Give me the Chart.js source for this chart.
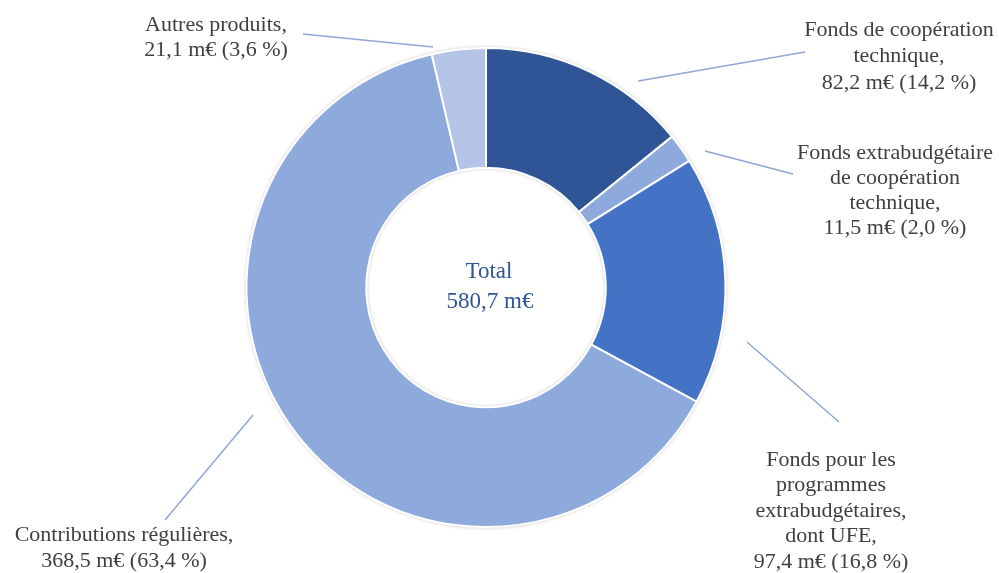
<!DOCTYPE html>
<html>
<head>
<meta charset="utf-8">
<script src="https://cdn.jsdelivr.net/npm/chart.js@4/dist/chart.umd.min.js"></script>
<style>
  html, body { margin: 0; padding: 0; background: #fff; }
  #wrap { width: 999px; height: 573px; }
</style>
</head>
<body>
<div id="wrap"><canvas id="myChart"></canvas></div>
<script>
const categories = [
  "Fonds de coopération technique",
  "Fonds extrabudgétaire de coopération technique",
  "Fonds pour les programmes extrabudgétaires, dont UFE",
  "Contributions régulières",
  "Autres produits"
];
const amounts = [82.2, 11.5, 97.4, 368.5, 21.1];
const shares = ["14,2", "2,0", "16,8", "63,4", "3,6"];
const totalLabel = ["Total", "580,7 m€"];

// text lines per label (label text wraps as in the source)
const labelLines = [
  ["Fonds de coopération", "technique,"],
  ["Fonds extrabudgétaire", "de coopération", "technique,"],
  ["Fonds pour les", "programmes", "extrabudgétaires,", "dont UFE,"],
  ["Contributions régulières,"],
  ["Autres produits,"]
];

const colors = ["#2F5597", "#8EA9DB", "#4472C4", "#8EA9DB", "#B4C4E6"];

// label layout: text centre, first line y, leader line from/to
const layout = [
  { x: 899, y: 30, lh: 26.5, line: [638, 81, 805, 52] },
  { x: 895, y: 153, lh: 25, line: [705, 151, 793, 174] },
  { x: 831, y: 460, lh: 25.5, line: [747, 342, 839, 422] },
  { x: 124, y: 535, lh: 26, line: [253, 415, 165, 520] },
  { x: 216, y: 25, lh: 25, line: [303, 34, 433, 47] }
];

const fmt = v => v.toFixed(1).replace(".", ",");

const labelPlugin = {
  id: "labels",
  beforeDatasetsDraw(chart) {
    const ctx = chart.ctx;
    const a = chart.getDatasetMeta(0).data[0];
    ctx.save();
    ctx.shadowColor = "rgba(0,0,0,0.3)";
    ctx.shadowBlur = 4;
    ctx.beginPath();
    ctx.arc(a.x, a.y, a.outerRadius, 0, Math.PI * 2);
    ctx.arc(a.x, a.y, a.innerRadius, 0, Math.PI * 2, true);
    ctx.fillStyle = "#ffffff";
    ctx.fill();
    ctx.restore();
  },
  afterDraw(chart) {
    const ctx = chart.ctx;
    const a = chart.getDatasetMeta(0).data[0];
    ctx.save();
    ctx.font = "22px 'Liberation Serif'";
    ctx.textAlign = "center";
    ctx.textBaseline = "middle";
    categories.forEach((c, i) => {
      const L = layout[i];
      ctx.strokeStyle = "#8FA6D6";
      ctx.lineWidth = 1.5;
      ctx.beginPath();
      ctx.moveTo(L.line[0], L.line[1]);
      ctx.lineTo(L.line[2], L.line[3]);
      ctx.stroke();
      const lines = labelLines[i].concat([fmt(amounts[i]) + " m€ (" + shares[i] + " %)"]);
      ctx.fillStyle = "#404040";
      lines.forEach((t, k) => ctx.fillText(t, L.x, L.y + k * L.lh));
    });
    ctx.font = "23px 'Liberation Serif'";
    ctx.fillStyle = "#2F5597";
    ctx.fillText(totalLabel[0], a.x + 3, a.y - 16);
    ctx.fillText(totalLabel[1], a.x + 4, a.y + 14);
    ctx.restore();
  }
};

new Chart(document.getElementById("myChart").getContext("2d"), {
  type: "doughnut",
  data: {
    labels: categories,
    datasets: [{
      data: amounts,
      backgroundColor: colors,
      borderColor: "#ffffff",
      borderWidth: 2
    }]
  },
  options: {
    responsive: true,
    maintainAspectRatio: false,
    animation: false,
    cutout: "50%",
    layout: { padding: { top: 47, bottom: 45, left: 245, right: 272 } },
    plugins: {
      legend: { display: false },
      tooltip: { enabled: false }
    }
  },
  plugins: [labelPlugin]
});
</script>
</body>
</html>
